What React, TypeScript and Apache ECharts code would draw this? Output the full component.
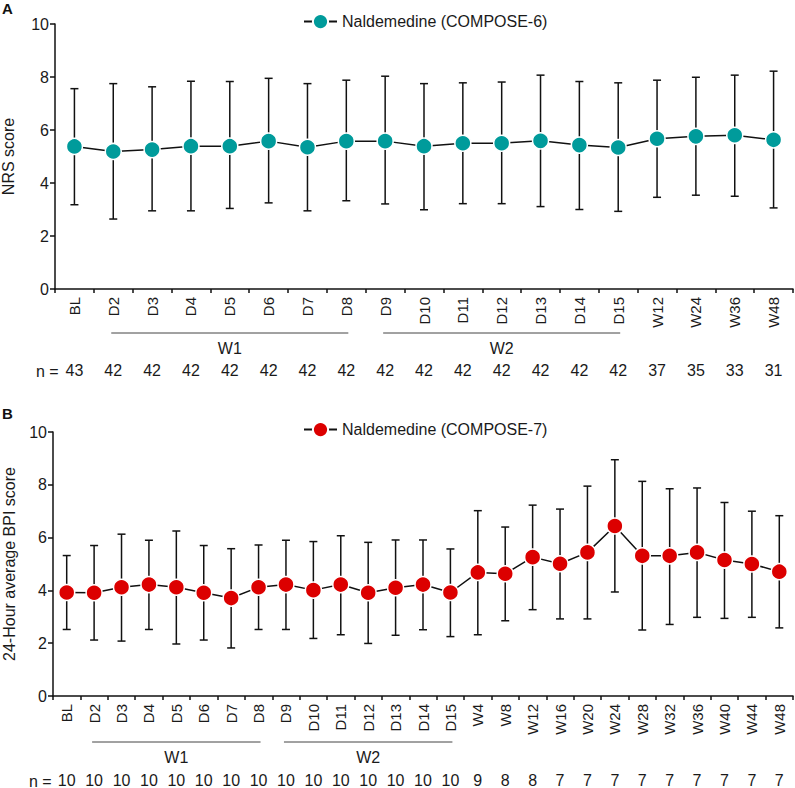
import React, { useEffect, useRef } from "react";
import * as echarts from "echarts";

// ---------- Data ----------
const catsA = ["BL", "D2", "D3", "D4", "D5", "D6", "D7", "D8", "D9", "D10", "D11", "D12", "D13", "D14", "D15", "W12", "W24", "W36", "W48"];
const meanA = [5.38, 5.19, 5.26, 5.39, 5.39, 5.58, 5.35, 5.58, 5.58, 5.39, 5.5, 5.5, 5.59, 5.43, 5.34, 5.67, 5.76, 5.8, 5.63];
const upperA = [7.56, 7.75, 7.63, 7.84, 7.83, 7.95, 7.75, 7.88, 8.03, 7.75, 7.78, 7.81, 8.07, 7.83, 7.78, 7.88, 7.99, 8.07, 8.22];
const lowerA = [3.18, 2.64, 2.95, 2.95, 3.04, 3.25, 2.95, 3.33, 3.21, 2.99, 3.22, 3.22, 3.11, 3.0, 2.93, 3.46, 3.54, 3.5, 3.06];
const nA = ["43", "42", "42", "42", "42", "42", "42", "42", "42", "42", "42", "42", "42", "42", "42", "37", "35", "33", "31"];

const catsB = ["BL", "D2", "D3", "D4", "D5", "D6", "D7", "D8", "D9", "D10", "D11", "D12", "D13", "D14", "D15", "W4", "W8", "W12", "W16", "W20", "W24", "W28", "W32", "W36", "W40", "W44", "W48"];
const meanB = [3.92, 3.91, 4.12, 4.22, 4.12, 3.91, 3.71, 4.12, 4.22, 4.01, 4.22, 3.91, 4.1, 4.22, 3.92, 4.68, 4.63, 5.26, 5.01, 5.44, 6.44, 5.31, 5.31, 5.44, 5.15, 5.0, 4.71];
const upperB = [5.32, 5.7, 6.13, 5.9, 6.25, 5.7, 5.58, 5.72, 5.9, 5.85, 6.07, 5.82, 5.91, 5.91, 5.57, 7.02, 6.4, 7.23, 7.08, 7.95, 8.95, 8.13, 7.85, 7.88, 7.33, 7.0, 6.83];
const lowerB = [2.52, 2.12, 2.08, 2.52, 1.97, 2.12, 1.82, 2.52, 2.52, 2.18, 2.32, 1.99, 2.3, 2.51, 2.25, 2.32, 2.85, 3.27, 2.92, 2.92, 3.94, 2.5, 2.71, 2.98, 2.94, 2.98, 2.58];
const nB = ["10", "10", "10", "10", "10", "10", "10", "10", "10", "10", "10", "10", "10", "10", "10", "9", "8", "8", "7", "7", "7", "7", "7", "7", "7", "7", "7"];

const bracketStart = [1, 8];
const bracketEnd = [7, 14];
const bracketLabel = ["W1", "W2"];

const nameA = "Naldemedine (COMPOSE-6)";
const nameB = "Naldemedine (COMPOSE-7)";
const colorA = "#009b9b";
const colorB = "#dc0000";

const FONT = "Liberation Sans, Arial, Helvetica, sans-serif";
const TXT = "#1a1a1a";

function errorRender(params: any, api: any) {
  const x = api.value(0);
  const lo = api.coord([x, api.value(1)]);
  const hi = api.coord([x, api.value(2)]);
  const w = 4;
  const st = { stroke: "#111", lineWidth: 1.5 };
  return {
    type: "group",
    children: [
      { type: "line", shape: { x1: lo[0], y1: lo[1], x2: hi[0], y2: hi[1] }, style: st },
      { type: "line", shape: { x1: hi[0] - w, y1: hi[1], x2: hi[0] + w, y2: hi[1] }, style: st },
      { type: "line", shape: { x1: lo[0] - w, y1: lo[1], x2: lo[0] + w, y2: lo[1] }, style: st },
    ],
  };
}

function bracketRender(lineOffset: number, textOffset: number) {
  return (params: any, api: any) => {
    const i = params.dataIndex;
    const a = api.coord([api.value(0), 0]);
    const b = api.coord([api.value(1), 0]);
    const y = a[1] + lineOffset;
    return {
      type: "group",
      children: [
        { type: "line", shape: { x1: a[0] - 2, y1: y, x2: b[0] + 2, y2: y }, style: { stroke: "#444", lineWidth: 1 } },
        {
          type: "text",
          x: (a[0] + b[0]) / 2,
          y: a[1] + textOffset,
          style: { text: bracketLabel[i], fill: TXT, font: `16px ${FONT}`, align: "center", verticalAlign: "middle" },
        },
      ],
    };
  };
}

export default function App() {
  const ref = useRef<HTMLDivElement>(null);
  useEffect(() => {
    if (!ref.current) return;
    const chart = echarts.init(ref.current, undefined, { renderer: "svg" });
    const valueAxis = (gridIndex: number, name: string, nameGap: number) => ({
      type: "value",
      gridIndex,
      min: 0,
      max: 10,
      interval: 2,
      name,
      nameLocation: "middle",
      nameGap,
      nameTextStyle: { fontSize: 16, color: TXT, fontFamily: FONT },
      axisLine: { show: true, lineStyle: { color: "#111", width: 1.5 } },
      axisTick: { show: true, length: 5, lineStyle: { color: "#111", width: 1.5 } },
      axisLabel: { fontSize: 16, color: TXT, margin: 6, fontFamily: FONT },
      splitLine: { show: false },
    });
    const catAxis = (gridIndex: number, data: string[]) => ({
      type: "category",
      gridIndex,
      data,
      axisLine: { show: true, lineStyle: { color: "#111", width: 1.5 } },
      axisTick: { show: true, length: 4, lineStyle: { color: "#111", width: 1.5 } },
      axisLabel: { interval: 0, rotate: 90, fontSize: 15, color: TXT, margin: 8, fontFamily: FONT },
    });
    const nAxis = (gridIndex: number, data: string[], offset: number) => ({
      type: "category",
      gridIndex,
      data,
      position: "bottom",
      offset,
      axisLine: { show: false },
      axisTick: { show: false },
      axisLabel: { interval: 0, fontSize: 16, color: TXT, margin: 0, fontFamily: FONT },
    });
    const legend = (name: string, top: number) => ({
      data: [name],
      left: 298,
      top,
      itemWidth: 33,
      itemHeight: 19,
      selectedMode: false,
      textStyle: { fontSize: 16, color: TXT, fontFamily: FONT },
    });
    const option: any = {
      animation: false,
      textStyle: { fontFamily: FONT },
      legend: [legend(nameA, 8), legend(nameB, 416)],
      grid: [
        { left: 55, right: 2, top: 24, height: 265, containLabel: false, outerBoundsMode: "none" },
        { left: 53, right: 2, top: 432, height: 264, containLabel: false, outerBoundsMode: "none" },
      ],
      xAxis: [catAxis(0, catsA), catAxis(1, catsB), nAxis(0, nA, 73), nAxis(1, nB, 76)],
      yAxis: [valueAxis(0, "NRS score", 39), valueAxis(1, "24-Hour average BPI score", 36)],
      graphic: [
        { type: "text", left: 2, top: 1, style: { text: "A", font: `bold 15px ${FONT}`, fill: "#111" } },
        { type: "text", left: 2, top: 406, style: { text: "B", font: `bold 15px ${FONT}`, fill: "#111" } },
        { type: "text", left: 36, top: 363, style: { text: "n =", font: `16px ${FONT}`, fill: TXT } },
        { type: "text", left: 29, top: 773, style: { text: "n =", font: `16px ${FONT}`, fill: TXT } },
      ],
      series: [
        {
          type: "custom",
          xAxisIndex: 0,
          yAxisIndex: 0,
          renderItem: errorRender,
          data: catsA.map((_, i) => [i, lowerA[i], upperA[i]]),
          encode: { x: 0, y: [1, 2] },
          z: 2,
          silent: true,
        },
        {
          type: "line",
          name: nameA,
          xAxisIndex: 0,
          yAxisIndex: 0,
          data: meanA,
          symbol: "circle",
          symbolSize: 16,
          itemStyle: { color: colorA, borderColor: "#fff", borderWidth: 1.5 },
          lineStyle: { color: "#111", width: 1.5 },
          z: 3,
        },
        {
          type: "custom",
          xAxisIndex: 0,
          yAxisIndex: 0,
          renderItem: bracketRender(44, 59),
          data: bracketStart.map((s, i) => [s, bracketEnd[i], 0]),
          encode: { x: [0, 1], y: 2 },
          clip: false,
          silent: true,
        },
        {
          type: "custom",
          xAxisIndex: 1,
          yAxisIndex: 1,
          renderItem: errorRender,
          data: catsB.map((_, i) => [i, lowerB[i], upperB[i]]),
          encode: { x: 0, y: [1, 2] },
          z: 2,
          silent: true,
        },
        {
          type: "line",
          name: nameB,
          xAxisIndex: 1,
          yAxisIndex: 1,
          data: meanB,
          symbol: "circle",
          symbolSize: 16,
          itemStyle: { color: colorB, borderColor: "#fff", borderWidth: 1.5 },
          lineStyle: { color: "#111", width: 1.5 },
          z: 3,
        },
        {
          type: "custom",
          xAxisIndex: 1,
          yAxisIndex: 1,
          renderItem: bracketRender(46, 61),
          data: bracketStart.map((s, i) => [s, bracketEnd[i], 0]),
          encode: { x: [0, 1], y: 2 },
          clip: false,
          silent: true,
        },
      ],
    };
    chart.setOption(option);
    return () => chart.dispose();
  }, []);
  return (
    <div
      ref={ref}
      style={{ position: "fixed", left: 0, top: 0, width: 795, height: 788, background: "#fff" }}
    />
  );
}
